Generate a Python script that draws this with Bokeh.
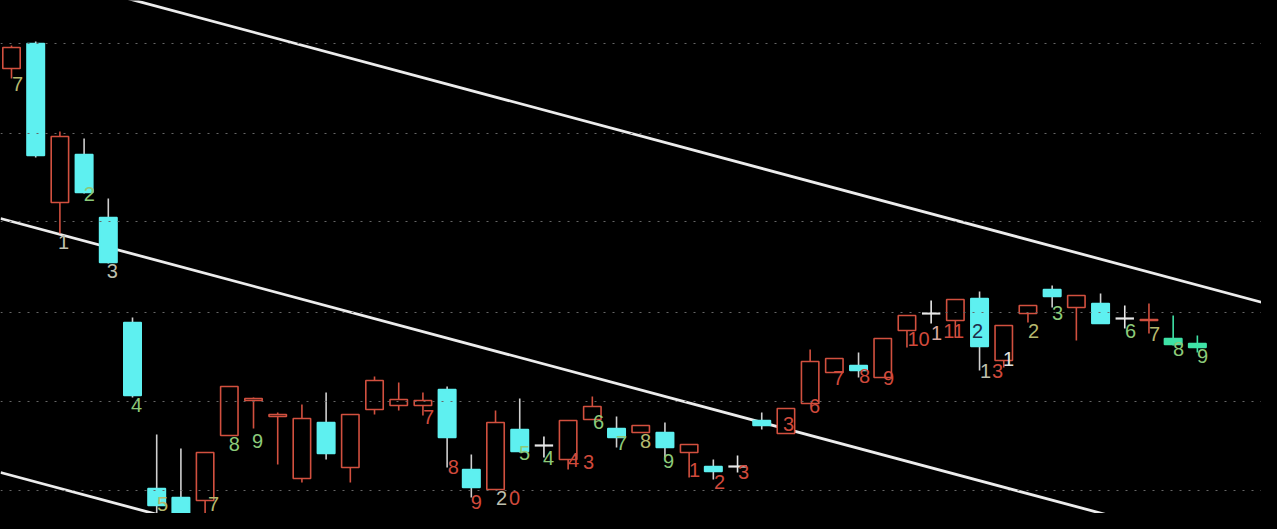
from bokeh.plotting import figure
from bokeh.models import Range1d, Span, ColumnDataSource
from bokeh.core.properties import value
from bokeh.embed import file_html
from bokeh.resources import INLINE

# ---- candle data (index, open/high/low/close) ----
opens = [5.32, 5.57, 3.98, 4.46, 3.83, 2.78, 1.12, 1.03, 1.00, 1.65,
         2.00, 1.84, 1.22, 1.78, 1.33, 1.91, 1.95, 1.95, 2.11, 1.31,
         1.11, 1.71, 1.55, 1.41, 1.81, 1.72, 1.68, 1.68, 1.48, 1.34,
         1.34, 1.80, 1.67, 1.97, 2.28, 2.35, 2.23, 2.70, 2.87, 2.80,
         3.02, 2.40, 2.87, 3.11, 2.93, 2.97, 2.82, 2.80, 2.62, 2.57]
highs = [5.55, 5.59, 4.69, 4.62, 4.02, 2.83, 1.66, 1.52, 1.48, 2.14,
         2.03, 1.88, 1.96, 2.08, 1.86, 2.24, 2.18, 2.08, 2.14, 1.46,
         1.90, 2.02, 1.64, 1.80, 2.04, 1.84, 1.75, 1.78, 1.56, 1.41,
         1.45, 1.88, 1.92, 2.51, 2.42, 2.48, 2.62, 2.85, 3.00, 3.01,
         3.09, 2.75, 2.95, 3.15, 3.05, 3.07, 2.95, 2.97, 2.85, 2.65]
lows = [5.22, 4.43, 3.67, 4.07, 3.37, 2.03, 0.80, 0.65, 0.65, 1.65,
        1.72, 1.36, 1.18, 1.41, 1.18, 1.86, 1.90, 1.85, 1.33, 1.03,
        1.11, 1.48, 1.43, 1.31, 1.81, 1.53, 1.68, 1.43, 1.23, 1.21,
        1.28, 1.71, 1.67, 1.97, 2.28, 2.23, 2.23, 2.53, 2.77, 2.63,
        2.30, 2.33, 2.78, 2.93, 2.60, 2.77, 2.72, 2.67, 2.55, 2.48]
closes = [5.53, 4.45, 4.64, 4.08, 3.38, 2.05, 0.95, 0.80, 1.48, 2.14,
          2.02, 1.86, 1.82, 1.47, 1.86, 2.20, 2.01, 2.00, 1.63, 1.13,
          1.78, 1.49, 1.55, 1.80, 1.94, 1.63, 1.75, 1.53, 1.56, 1.29,
          1.34, 1.75, 1.92, 2.39, 2.42, 2.30, 2.62, 2.85, 2.87, 3.01,
          2.54, 2.75, 2.95, 3.04, 3.05, 2.77, 2.82, 2.81, 2.56, 2.53]
highlighted = [48, 49]

# ---- count labels ----
label_text = ["7", "1", "2", "3", "4", "5", "7", "8", "9", "7",
              "8", "9", "2", "0", "5", "4", "4", "3", "6", "7",
              "8", "9", "1", "2", "3", "3", "6", "7", "8", "9",
              "10", "1", "11", "2", "1", "3", "1", "2", "3", "6",
              "7", "8", "9"]
label_x = [0.25, 2.15, 3.22, 4.17, 5.17, 6.24, 8.35, 9.21, 10.17, 17.23,
           18.26, 19.21, 20.25, 20.79, 21.20, 22.19, 23.22, 23.84, 24.26, 25.21,
           26.20, 27.15, 28.22, 29.26, 30.25, 32.11, 33.18, 34.17, 35.25, 36.24,
           37.48, 38.22, 38.93, 39.92, 40.25, 40.74, 41.20, 42.23, 43.22, 46.24,
           47.23, 48.22, 49.21]
label_y = [5.17, 3.59, 4.07, 3.30, 1.96, 0.97, 0.97, 1.57, 1.60, 1.84,
           1.34, 0.99, 1.03, 1.03, 1.48, 1.43, 1.41, 1.39, 1.79, 1.58,
           1.60, 1.40, 1.31, 1.19, 1.29, 1.77, 1.95, 2.23, 2.25, 2.23,
           2.62, 2.68, 2.70, 2.70, 2.30, 2.30, 2.42, 2.70, 2.88, 2.70,
           2.67, 2.52, 2.45]
label_kind = ["olive", "gray", "green", "gray", "green", "olive", "olive", "green", "green", "red",
              "red", "red", "gray", "red", "green", "green", "red", "red", "green", "green",
              "olive", "green", "red", "red", "red", "red", "red", "red", "red", "red",
              "red", "pink", "red", "navy", "gray", "red", "white", "olive", "green", "green",
              "olive", "green", "green"]

# ---- parallel trend channel lines ----
trend_x0 = [-0.45, -0.45, -0.45]
trend_y0 = [6.36, 3.82, 1.28]
trend_x1 = [52.31, 52.31, 52.31]
trend_y1 = [2.94, 0.40, -2.14]

# ---- horizontal dotted price levels ----
grid_levels = [5.57, 4.67, 3.79, 2.88, 1.99, 1.10]

RED = "#d2503f"
CYAN = "#5ef0f0"
GREEN = "#3fe2a6"
WICK_DN = "#cfcfcf"
WHITE = "#e8e8e8"
label_palette = {"olive": "#b5b86e", "gray": "#bdbfae", "green": "#8cca7a",
                 "red": "#d04a3c", "pink": "#d8a8a0", "navy": "#1c2b4a",
                 "white": "#e0e0e0"}

p = figure(width=1261, height=513, output_backend="svg", toolbar_location=None,
           x_range=Range1d(-0.4545, 51.65), y_range=Range1d(0.87, 6.00),
           x_axis_location=None, y_axis_location=None, min_border=0)
p.background_fill_color = "#000000"
p.border_fill_color = "#000000"
p.outline_line_color = None
p.xgrid.visible = False
p.ygrid.visible = False

for lvl in grid_levels:
    p.add_layout(Span(location=lvl, dimension="width", line_color="#666666",
                      line_width=1.2, line_dash="2 7"))

p.segment(x0=trend_x0, y0=trend_y0, x1=trend_x1, y1=trend_y1,
          line_color="#ececec", line_width=2.8)

n = len(opens)
idx = list(range(n))
wick_col, fill_col, line_col = [], [], []
tops, bots = [], []
doji_x, doji_y, doji_c = [], [], []
for i in idx:
    o, c = opens[i], closes[i]
    tops.append(max(o, c))
    bots.append(min(o, c))
    if i in highlighted:
        wick_col.append(GREEN); fill_col.append(GREEN); line_col.append(GREEN)
    elif c > o:
        wick_col.append(RED); fill_col.append("#000000"); line_col.append(RED)
    elif c < o:
        wick_col.append(WICK_DN); fill_col.append(CYAN); line_col.append(CYAN)
    else:
        wick_col.append(WHITE); fill_col.append(None); line_col.append(None)
        doji_x.append(i); doji_y.append(o); doji_c.append(WHITE)

src = ColumnDataSource(dict(x=idx, high=highs, low=lows, top=tops, bottom=bots,
                            left=[i - 0.36 for i in idx], right=[i + 0.36 for i in idx],
                            wc=wick_col, fc=fill_col, lc=line_col))
p.segment(x0="x", y0="high", x1="x", y1="low", line_color="wc", line_width=1.6, source=src)
p.quad(left="left", right="right", top="top", bottom="bottom", fill_color="fc",
       line_color="lc", line_width=1.6, source=src)
p.segment(x0=[x - 0.38 for x in doji_x], y0=doji_y, x1=[x + 0.38 for x in doji_x],
          y1=doji_y, line_color=doji_c, line_width=2.2)

lsrc = ColumnDataSource(dict(x=label_x, y=label_y, text=label_text,
                             color=[label_palette[k] for k in label_kind]))
p.text(x="x", y="y", text="text", source=lsrc, text_color="color",
       text_font=value("Liberation Sans"), text_font_size="20px",
       text_align="center", text_baseline="middle")

html = file_html(p, INLINE)
html = html.replace("<body>", '<body style="background-color:#000000;">')
open("out.html", "w").write(html)
